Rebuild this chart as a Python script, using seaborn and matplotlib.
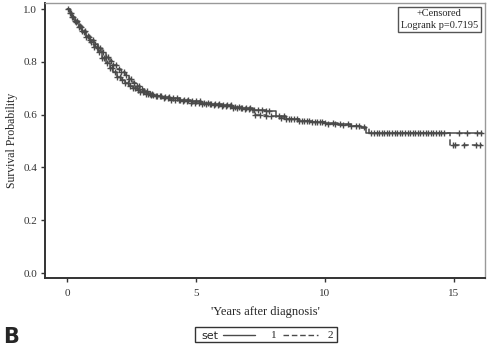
import numpy as np
import pandas as pd
import matplotlib
matplotlib.use('Agg')
import matplotlib.pyplot as plt
import seaborn as sns

sns.set_style('white')
plt.rcParams['font.family'] = ['Liberation Serif', 'DejaVu Serif']

# Kaplan-Meier step knots (time in years, survival probability)
times1 = [0, 0.1, 0.2, 0.3, 0.45, 0.6, 0.75, 0.9, 1.05, 1.2, 1.35, 1.5, 1.65, 1.8, 1.95,
          2.1, 2.25, 2.4, 2.55, 2.7, 2.85, 3.0, 3.2, 3.4, 3.7, 4.0, 4.4, 4.8, 5.2, 5.6,
          6.0, 6.4, 6.8, 7.2, 7.7, 8.1, 8.5, 9.0, 9.5, 10.0, 10.5, 11.0, 11.4, 11.6, 16.1]
surv1 = [1.0, 0.985, 0.97, 0.952, 0.932, 0.912, 0.893, 0.876, 0.858, 0.836, 0.816, 0.795,
         0.778, 0.76, 0.744, 0.732, 0.72, 0.709, 0.7, 0.692, 0.686, 0.68, 0.674,
         0.67, 0.667, 0.662, 0.657, 0.652, 0.646, 0.641, 0.636, 0.63, 0.624, 0.618,
         0.614, 0.595, 0.585, 0.578, 0.572, 0.568, 0.563, 0.558, 0.553, 0.53, 0.53]
times2 = [0, 0.1, 0.2, 0.3, 0.45, 0.6, 0.75, 0.9, 1.05, 1.2, 1.35, 1.5, 1.65, 1.8, 1.95,
          2.1, 2.25, 2.4, 2.55, 2.7, 2.85, 3.0, 3.2, 3.4, 3.7, 4.0, 4.4, 4.8, 5.2, 5.6,
          6.0, 6.4, 6.8, 7.2, 7.7, 8.1, 8.5, 9.0, 9.5, 10.0, 10.5, 11.0, 11.4, 11.7,
          14.85, 16.1]
surv2 = [1.0, 0.986, 0.972, 0.955, 0.937, 0.918, 0.9, 0.884, 0.868, 0.852, 0.836, 0.82,
         0.805, 0.79, 0.775, 0.762, 0.749, 0.735, 0.722, 0.71, 0.699, 0.689, 0.678,
         0.669, 0.662, 0.656, 0.651, 0.646, 0.641, 0.636, 0.632, 0.626, 0.62, 0.6,
         0.596, 0.588, 0.582, 0.576, 0.571, 0.566, 0.561, 0.556, 0.55, 0.53, 0.485, 0.485]

# censoring times
cens1 = [0.05, 0.15, 0.25, 0.35, 0.45, 0.55, 0.65, 0.75, 0.85, 0.95, 1.05, 1.15, 1.25,
         1.35, 1.45, 1.55, 1.65, 1.75, 1.85, 1.95, 2.05, 2.15, 2.25, 2.35, 2.45, 2.55,
         2.65, 2.75, 2.85, 2.95, 3.05, 3.15, 3.25, 3.35, 3.5, 3.65, 3.8, 3.95, 4.1, 4.25,
         4.4, 4.55, 4.7, 4.85, 5.0, 5.15, 5.3, 5.45, 5.6, 5.75, 5.9, 6.05, 6.2, 6.35,
         6.5, 6.65, 6.8, 6.95, 7.1, 7.25, 7.4, 7.55, 7.7, 7.85, 8.2, 8.4, 8.6, 8.8, 9.0,
         9.2, 9.4, 9.6, 9.8, 10.0, 10.3, 10.6, 10.9, 11.2, 11.5, 11.8, 12.0, 12.2, 12.4,
         12.6, 12.8, 13.0, 13.2, 13.4, 13.6, 13.8, 14.0, 14.2, 14.4, 14.6, 15.2, 15.5,
         15.9, 16.05]
cens2 = [0.1, 0.2, 0.3, 0.4, 0.5, 0.6, 0.7, 0.8, 0.9, 1.0, 1.1, 1.2, 1.3, 1.4, 1.5, 1.6,
         1.7, 1.8, 1.9, 2.0, 2.1, 2.2, 2.3, 2.4, 2.5, 2.6, 2.7, 2.8, 2.9, 3.0, 3.1, 3.2,
         3.3, 3.45, 3.6, 3.75, 3.9, 4.05, 4.2, 4.35, 4.5, 4.65, 4.8, 4.95, 5.1, 5.25, 5.4,
         5.55, 5.7, 5.85, 6.0, 6.15, 6.3, 6.45, 6.6, 6.75, 6.9, 7.05, 7.3, 7.5, 7.7, 7.9,
         8.3, 8.5, 8.7, 8.9, 9.1, 9.3, 9.5, 9.7, 9.9, 10.1, 10.4, 10.7, 11.0, 11.3, 11.9,
         12.1, 12.3, 12.5, 12.7, 12.9, 13.1, 13.3, 13.5, 13.7, 13.9, 14.1, 14.3, 14.5,
         14.95, 15.05, 15.4, 15.85, 16.0]

x_ticks = [0, 5, 10, 15]
y_ticks = [0.0, 0.2, 0.4, 0.6, 0.8, 1.0]


def step_value(t, times, surv):
    idx = np.searchsorted(times, t, side='right') - 1
    return np.asarray(surv)[idx]


curves = pd.concat([
    pd.DataFrame({'time': times1, 'surv': surv1, 'set': '1'}),
    pd.DataFrame({'time': times2, 'surv': surv2, 'set': '2'}),
])
censored = pd.concat([
    pd.DataFrame({'time': cens1, 'surv': step_value(cens1, times1, surv1), 'set': '1'}),
    pd.DataFrame({'time': cens2, 'surv': step_value(cens2, times2, surv2), 'set': '2'}),
])

fig = plt.figure(figsize=(4.88, 3.48), dpi=100)
ax = fig.add_axes([0.0922, 0.2011, 0.9016, 0.790])

line_color = '#4a4a4a'
sns.lineplot(data=curves, x='time', y='surv', style='set', dashes={'1': '', '2': (4, 2)},
             color=line_color, estimator=None, sort=False, drawstyle='steps-post',
             linewidth=1.1, legend=False, ax=ax)
sns.scatterplot(data=censored, x='time', y='surv', marker='+', color=line_color,
                s=20, linewidth=1.0, legend=False, ax=ax)

ax.set_xlim(-0.85, 16.2)
ax.set_ylim(-0.019, 1.023)
ax.set_xticks(x_ticks)
ax.set_yticks(y_ticks)
ax.set_xticklabels([str(v) for v in x_ticks])
ax.set_yticklabels([f'{v:.1f}' for v in y_ticks])
ax.tick_params(axis='both', which='major', left=True, bottom=True, direction='out',
               length=3, width=1, colors='#333333', labelsize=8, pad=2.5)
ax.tick_params(axis='x', pad=5)
for side in ['left', 'bottom']:
    ax.spines[side].set_color('#333333')
    ax.spines[side].set_linewidth(1.4)
for side in ['top', 'right']:
    ax.spines[side].set_color('#999999')
    ax.spines[side].set_linewidth(1.0)

ax.set_xlabel("'Years after diagnosis'", fontsize=9, labelpad=6)
ax.set_ylabel('Survival Probability', fontsize=8.5, labelpad=4)

# inset box
ax.text(0.984, 0.978, '+Censored\nLogrank p=0.7195', transform=ax.transAxes,
        ha='right', va='top', fontsize=7.5, linespacing=1.35, multialignment='center',
        bbox=dict(boxstyle='square,pad=0.25', facecolor='white', edgecolor='#555555',
                  linewidth=1.0))

# bottom legend
y_leg = 0.038
fig.text(0.412, y_leg, 'set', fontsize=8, family='DejaVu Sans', va='center_baseline',
         ha='left')
fig.lines.append(plt.Line2D([0.457, 0.523], [y_leg, y_leg], transform=fig.transFigure,
                            color=line_color, linewidth=1.0))
fig.text(0.555, y_leg, '1', fontsize=8, va='center_baseline', ha='left')
fig.lines.append(plt.Line2D([0.58, 0.652], [y_leg, y_leg], transform=fig.transFigure,
                            color=line_color, linewidth=1.0, linestyle=(0, (4, 2))))
fig.text(0.672, y_leg, '2', fontsize=8, va='center_baseline', ha='left')
fig.patches.append(plt.Rectangle((0.40, 0.017), 0.291, 0.043, transform=fig.transFigure,
                                 fill=False, edgecolor='#333333', linewidth=1.0))

fig.text(0.006, 0.015, 'B', fontsize=15, fontweight='bold', family='DejaVu Sans')

fig.savefig('out.png', dpi=100)
